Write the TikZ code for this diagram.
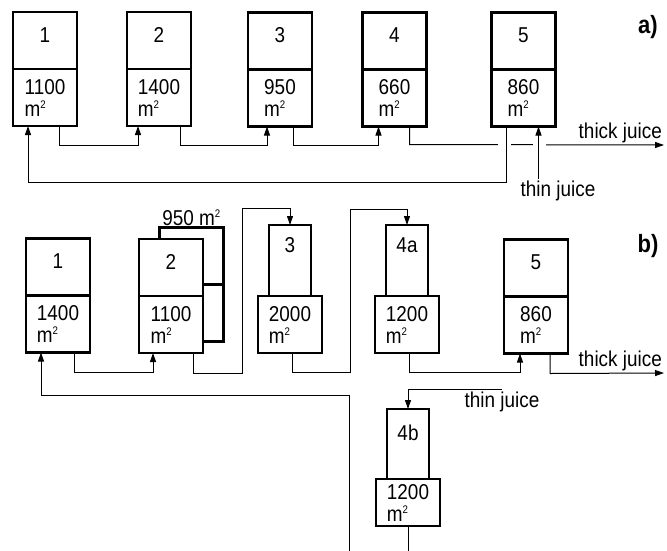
\documentclass[tikz,border=0pt]{standalone}
\usepackage{fontspec}
\setmainfont{Liberation Sans}[FakeStretch=0.88]
\usetikzlibrary{arrows.meta,positioning}

\newcommand{\sqm}{m\textsuperscript{\fontsize{11}{11}\selectfont 2}}

\begin{document}
\begin{tikzpicture}[x=1pt, y=-1pt, >={Triangle[length=9pt,width=6pt]},
  box/.style={draw, line width=2.8pt, fill=white, inner sep=0pt, outer sep=0pt, font=\fontsize{21.5}{22}\selectfont},
  upper/.style={box, minimum width=64pt, text height=30pt, text depth=27pt},
  narrow/.style={box, minimum width=42pt, text height=27pt, text depth=44pt},
  lower/.style={box, minimum width=64pt, minimum height=57pt, align=left},
  flow/.style={line width=1pt, ->},
  gap/.style={white, line width=4pt},
  lbl/.style={font=\fontsize{21.5}{22}\selectfont, inner sep=2pt},
  tag/.style={font=\fontsize{25}{26}\selectfont\bfseries, inner sep=0pt}]
  \useasboundingbox (0,0) rectangle (667,550);
  \clip (0,0) rectangle (667,550);

  % a)
  \node[upper] (a1t) at (45,40.5) {1};
  \node[lower, below=0pt of a1t] (a1b) {1100\\\sqm};
  \node[upper] (a2t) at (159,40.5) {2};
  \node[lower, below=0pt of a2t] (a2b) {1400\\\sqm};
  \node[upper] (a3t) at (280,41) {3};
  \node[lower, below=0pt of a3t] (a3b) {950\\\sqm};
  \node[upper] (a4t) at (394.5,41) {4};
  \node[lower, below=0pt of a4t] (a4b) {660\\\sqm};
  \node[upper] (a5t) at (523.5,41) {5};
  \node[lower, below=0pt of a5t] (a5b) {860\\\sqm};
  \node[tag] (tagA) at (648,27) {a)};

  \coordinate (outA) at (664,145);
  \coordinate (a5in) at ([xshift=15pt]a5b.south);
  \node[lbl, above left=0pt and 0pt of outA] (thickA) {thick juice};
  \node[lbl] (thinA) at (558,191) {thin juice};

  \draw[flow] ([xshift=14pt]a1b.south) -- ++(0,19) -| ([xshift=-21pt]a2b.south);
  \draw[flow] ([xshift=21pt]a2b.south) -- ++(0,19) -| ([xshift=-13pt]a3b.south);
  \draw[flow] ([xshift=13pt]a3b.south) -- ++(0,19) -| ([xshift=-16pt]a4b.south);
  \draw[flow] ([xshift=15pt]a4b.south) -- ++(0,18) -- (outA);
  \draw[gap] (498,145) -- (511,145) (533,145) -- (546,145);
  \draw[flow] ([xshift=-17pt]a5b.south) -- ++(0,56) -| ([xshift=-17pt]a1b.south);
  \draw[flow] (thinA.north -| a5in) -- (a5in);

  % b)
  \node[upper] (b1t) at (58,267) {1};
  \node[lower, below=0pt of b1t] (b1b) {1400\\\sqm};
  \node[upper] (b2s) at (191.5,256) {};
  \node[lower, below=0pt of b2s] (b2sb) {};
  \node[lbl, above=0pt of b2s] (b2x) {950 \sqm};
  \node[upper] (b2t) at (171,267.5) {2};
  \node[lower, below=0pt of b2t] (b2b) {1100\\\sqm};
  \node[narrow] (b3t) at (290,260.5) {3};
  \node[lower, below=0pt of b3t] (b3b) {2000\\\sqm};
  \node[narrow] (b4at) at (407,260.5) {4a};
  \node[lower, below=0pt of b4at] (b4ab) {1200\\\sqm};
  \node[upper] (b5t) at (536,268) {5};
  \node[lower, below=0pt of b5t] (b5b) {860\\\sqm};
  \node[narrow, text height=31pt, text depth=39pt] (b4bt) at (408,444) {4b};
  \node[lower, minimum height=47pt, below=0pt of b4bt] (b4bb) {1200\\\sqm};
  \node[tag] (tagB) at (648,246) {b)};

  \coordinate (outB) at (664,373);
  \node[lbl, above left=0pt and 0pt of outB] (thickB) {thick juice};
  \node[lbl] (thinB) at (502,402) {thin juice};

  \draw[flow] ([xshift=16pt]b1b.south) -- ++(0,20) -| ([xshift=-18pt]b2b.south);
  \draw[flow] ([xshift=22pt]b2b.south) -- ++(0,20) -- ++(49,0) |- ([yshift=17pt]b3t.north) -- (b3t.north);
  \draw[flow] ([xshift=2pt]b3b.south) -- ++(0,19) -- ++(58,0) |- ([yshift=16pt]b4at.north) -- (b4at.north);
  \draw[flow] ([xshift=2pt]b4ab.south) -- ++(0,19) -| ([xshift=-16pt]b5b.south);
  \draw[flow] ([xshift=14pt]b5b.south) -- ++(0,20) -- (outB);
  \draw[flow] (thinB.north) -| (b4bt.north);
  \draw[flow] (b4bb.south) -- ++(0,26) -- ++(-59,0) |- ([xshift=-17pt,yshift=-43pt]b1b.south) -- ([xshift=-17pt]b1b.south);
\end{tikzpicture}
\end{document}
